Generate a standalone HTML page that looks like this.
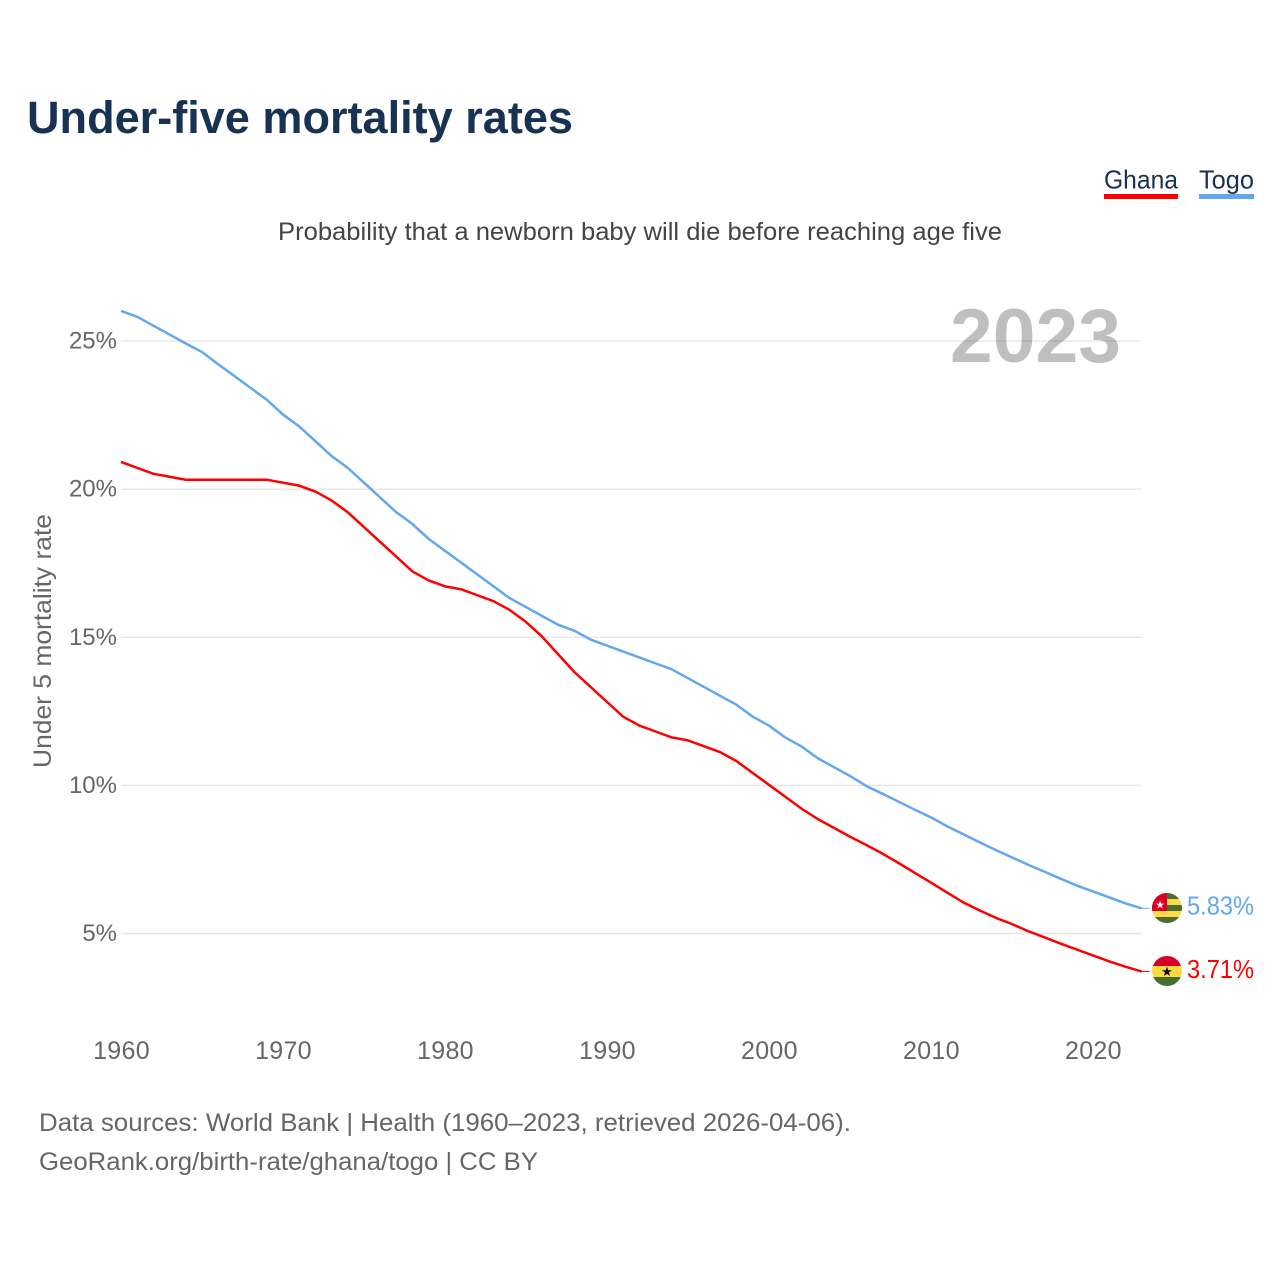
<!DOCTYPE html>
<html lang="en">
<head>
<meta charset="utf-8">
<title>Under-five mortality rates</title>
<style>
  html, body { margin: 0; padding: 0; background: #fff; }
  svg { display: block; }
  text { font-family: "Liberation Sans", sans-serif; }
</style>
</head>
<body>
<svg id="chart" xmlns="http://www.w3.org/2000/svg" width="1280" height="1280" viewBox="0 0 1280 1280">
  <defs>
    <clipPath id="flag-clip-togo"><circle cx="1167" cy="908" r="15"/></clipPath>
    <clipPath id="flag-clip-ghana"><circle cx="1167" cy="971" r="15"/></clipPath>
  </defs>

  <text x="27" y="133" font-size="45" font-weight="700" fill="#173252" textLength="546" lengthAdjust="spacingAndGlyphs">Under-five mortality rates</text>

  <g>
    <text x="1104" y="188.5" font-size="26" fill="#173252" textLength="74" lengthAdjust="spacingAndGlyphs">Ghana</text>
    <rect x="1104" y="194" width="74" height="5" fill="#ff0000"/>
  </g>
  <g>
    <text x="1199" y="188.5" font-size="26" fill="#173252" textLength="55" lengthAdjust="spacingAndGlyphs">Togo</text>
    <rect x="1199" y="194" width="55" height="5" fill="#63a7ee"/>
  </g>

  <text x="278" y="240" font-size="25" fill="#444444" textLength="724" lengthAdjust="spacingAndGlyphs">Probability that a newborn baby will die before reaching age five</text>

  <g id="grid"></g>
  <g id="y-labels"></g>
  <g id="x-labels"></g>

  <text transform="translate(51,768) rotate(-90)" x="0" y="0" font-size="25" fill="#666666" textLength="254" lengthAdjust="spacingAndGlyphs">Under 5 mortality rate</text>

  <text x="950" y="362" font-size="76" font-weight="700" fill="#000000" fill-opacity="0.25" textLength="171" lengthAdjust="spacingAndGlyphs">2023</text>

  <g id="series"></g>

  <g clip-path="url(#flag-clip-togo)">
    <rect x="1152" y="893" width="30" height="30" fill="#ffda44"/>
    <rect x="1152" y="893" width="30" height="6" fill="#496e2d"/>
    <rect x="1152" y="905" width="30" height="6" fill="#496e2d"/>
    <rect x="1152" y="917" width="30" height="6" fill="#496e2d"/>
    <rect x="1152" y="893" width="15" height="18" fill="#d80027"/>
    <text x="1160" y="908.5" font-size="11" text-anchor="middle" fill="#f0f0f0">★</text>
  </g>
  <g clip-path="url(#flag-clip-ghana)">
    <rect x="1152" y="956" width="30" height="10" fill="#d80027"/>
    <rect x="1152" y="966" width="30" height="11" fill="#ffda44"/>
    <rect x="1152" y="977" width="30" height="9" fill="#496e2d"/>
    <text x="1167" y="976" font-size="13" text-anchor="middle" fill="#000000">★</text>
  </g>

  <text x="1187" y="914.5" font-size="26" fill="#63a7ee" textLength="67" lengthAdjust="spacingAndGlyphs">5.83%</text>
  <text x="1187" y="978" font-size="26" fill="#ff0000" textLength="67" lengthAdjust="spacingAndGlyphs">3.71%</text>

  <text x="39" y="1131" font-size="25" fill="#666666" textLength="812" lengthAdjust="spacingAndGlyphs">Data sources: World Bank | Health (1960–2023, retrieved 2026-04-06).</text>
  <text x="39" y="1170" font-size="25" fill="#666666" textLength="499" lengthAdjust="spacingAndGlyphs">GeoRank.org/birth-rate/ghana/togo | CC BY</text>
</svg>
<script>
const years = [1960,1961,1962,1963,1964,1965,1966,1967,1968,1969,1970,1971,1972,1973,1974,1975,1976,1977,1978,1979,1980,1981,1982,1983,1984,1985,1986,1987,1988,1989,1990,1991,1992,1993,1994,1995,1996,1997,1998,1999,2000,2001,2002,2003,2004,2005,2006,2007,2008,2009,2010,2011,2012,2013,2014,2015,2016,2017,2018,2019,2020,2021,2022,2023];
const togoValues = [26.02,25.82,25.52,25.22,24.92,24.63,24.22,23.82,23.42,23.02,22.52,22.12,21.62,21.12,20.72,20.22,19.72,19.22,18.82,18.32,17.92,17.52,17.12,16.72,16.32,16.02,15.72,15.42,15.22,14.92,14.72,14.52,14.32,14.12,13.92,13.62,13.32,13.02,12.72,12.32,12.02,11.62,11.32,10.92,10.62,10.32,9.98,9.72,9.45,9.18,8.92,8.62,8.35,8.08,7.82,7.57,7.32,7.09,6.85,6.62,6.42,6.22,6.02,5.85];
const ghanaValues = [20.92,20.72,20.52,20.42,20.32,20.32,20.32,20.32,20.32,20.32,20.22,20.12,19.92,19.62,19.22,18.72,18.22,17.72,17.22,16.92,16.72,16.62,16.42,16.22,15.92,15.52,15.02,14.42,13.82,13.32,12.82,12.32,12.02,11.82,11.62,11.52,11.32,11.12,10.82,10.42,10.02,9.62,9.22,8.87,8.57,8.27,7.99,7.7,7.38,7.05,6.72,6.38,6.05,5.78,5.53,5.32,5.08,4.87,4.66,4.46,4.26,4.06,3.88,3.72];
const yTicks = [5,10,15,20,25];
const xTicks = [1960,1970,1980,1990,2000,2010,2020];

const SVG_NS = 'http://www.w3.org/2000/svg';
const plotLeft = 121, plotRight = 1141.5;
function xScale(year) { return plotLeft + (year - 1960) * (plotRight - plotLeft) / (2023 - 1960); }
function yScale(value) { return 933.5 - (value - 5) * 29.62; }

const gridGroup = document.getElementById('grid');
const yLabelGroup = document.getElementById('y-labels');
const xLabelGroup = document.getElementById('x-labels');
const seriesGroup = document.getElementById('series');

yTicks.forEach(function (tick) {
  const line = document.createElementNS(SVG_NS, 'line');
  line.setAttribute('x1', plotLeft);
  line.setAttribute('x2', plotRight);
  line.setAttribute('y1', yScale(tick));
  line.setAttribute('y2', yScale(tick));
  line.setAttribute('stroke', '#e6e6e6');
  line.setAttribute('stroke-width', '1.4');
  
  
  gridGroup.appendChild(line);

  const label = document.createElementNS(SVG_NS, 'text');
  label.setAttribute('x', 117);
  label.setAttribute('y', yScale(tick) + 7.5);
  label.setAttribute('text-anchor', 'end');
  label.setAttribute('font-size', '24');
  label.setAttribute('fill', '#666666');
  label.textContent = tick + '%';
  
  
  yLabelGroup.appendChild(label);
});

xTicks.forEach(function (tick) {
  const label = document.createElementNS(SVG_NS, 'text');
  label.setAttribute('x', xScale(tick) + 0.5);
  label.setAttribute('y', 1059);
  label.setAttribute('text-anchor', 'middle');
  label.setAttribute('font-size', '25');
  label.setAttribute('letter-spacing', '0.3');
  label.setAttribute('fill', '#666666');
  label.textContent = tick;
  
  
  xLabelGroup.appendChild(label);
});

function drawSeries(values, color, name) {
  const points = values.map(function (v, i) { return xScale(years[i]).toFixed(2) + ',' + yScale(v).toFixed(2); });
  const last = values[values.length - 1];
  const line = document.createElementNS(SVG_NS, 'polyline');
  line.setAttribute('points', points.join(' '));
  line.setAttribute('fill', 'none');
  line.setAttribute('stroke', color);
  line.setAttribute('stroke-width', '2.5');
  line.setAttribute('stroke-linejoin', 'round');
  
  
  seriesGroup.appendChild(line);

  const connector = document.createElementNS(SVG_NS, 'line');
  connector.setAttribute('x1', xScale(years[years.length - 1]));
  connector.setAttribute('x2', xScale(years[years.length - 1]) + 8);
  connector.setAttribute('y1', yScale(last));
  connector.setAttribute('y2', yScale(last));
  connector.setAttribute('stroke', color);
  connector.setAttribute('stroke-width', '1');
  
  
  seriesGroup.appendChild(connector);
}

drawSeries(togoValues, '#63a7ee', 'togo');
drawSeries(ghanaValues, '#ff0000', 'ghana');
</script>
</body>
</html>
